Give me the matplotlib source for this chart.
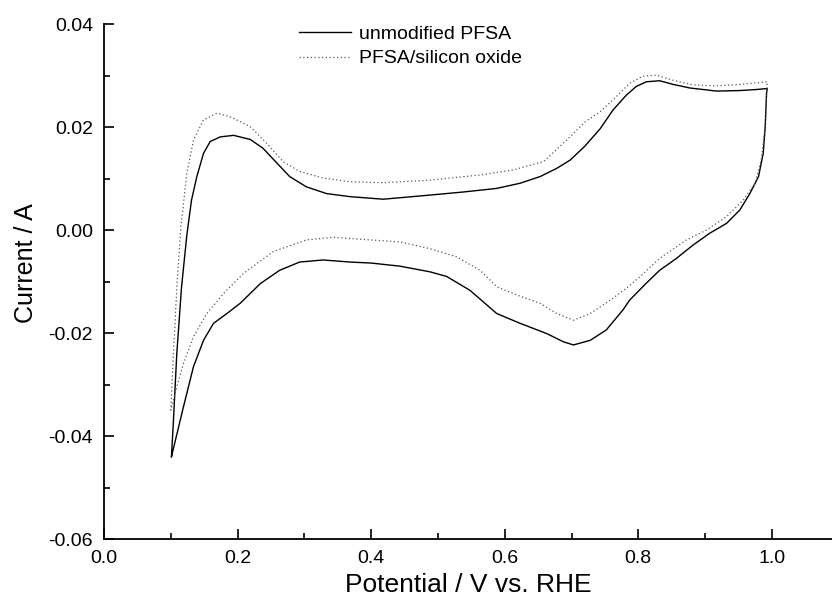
import matplotlib
matplotlib.use("Agg")
import matplotlib.pyplot as plt
from matplotlib.ticker import MultipleLocator, FormatStrFormatter

plt.rcParams['font.family'] = ['Liberation Sans', 'DejaVu Sans']

# unmodified PFSA (anodic sweep then cathodic sweep)
pot_unmod = [0.101, 0.104, 0.109, 0.116, 0.124, 0.131, 0.139, 0.149, 0.159, 0.174,
             0.194, 0.219, 0.238, 0.259, 0.278, 0.303, 0.333, 0.368, 0.418, 0.488,
             0.538, 0.588, 0.623, 0.653, 0.678, 0.698, 0.720, 0.743, 0.762, 0.782,
             0.797, 0.812, 0.832, 0.852, 0.877, 0.917, 0.952, 0.977, 0.993,
             0.992, 0.990, 0.987, 0.980, 0.967, 0.952, 0.932, 0.907, 0.882, 0.857,
             0.832, 0.812, 0.787, 0.777, 0.752, 0.728, 0.703, 0.688, 0.663, 0.623,
             0.588, 0.548, 0.513, 0.488, 0.443, 0.400, 0.368, 0.328, 0.293, 0.263,
             0.234, 0.204, 0.184, 0.164, 0.149, 0.134, 0.119, 0.101]
cur_unmod = [-0.0440, -0.0369, -0.0240, -0.0112, -0.0010, 0.0058, 0.0104, 0.0149, 0.0172, 0.0181,
             0.0184, 0.0176, 0.0159, 0.0130, 0.0104, 0.0084, 0.0071, 0.0065, 0.0060, 0.0068,
             0.0074, 0.0081, 0.0091, 0.0104, 0.0120, 0.0136, 0.0163, 0.0197, 0.0233, 0.0262,
             0.0279, 0.0288, 0.0290, 0.0283, 0.0276, 0.0270, 0.0271, 0.0273, 0.0275,
             0.0266, 0.0201, 0.0149, 0.0104, 0.0071, 0.0039, 0.0013, -0.0006, -0.0029, -0.0055,
             -0.0078, -0.0103, -0.0136, -0.0155, -0.0194, -0.0214, -0.0223, -0.0217, -0.0201, -0.0181,
             -0.0162, -0.0117, -0.0090, -0.0081, -0.0070, -0.0064, -0.0062, -0.0058, -0.0062, -0.0078,
             -0.0104, -0.0142, -0.0162, -0.0181, -0.0214, -0.0265, -0.0343, -0.0440]

# PFSA/silicon oxide
pot_sio = [0.100, 0.104, 0.109, 0.115, 0.124, 0.134, 0.149, 0.169, 0.189, 0.219,
           0.244, 0.268, 0.293, 0.328, 0.368, 0.418, 0.488, 0.563, 0.613, 0.658,
           0.693, 0.720, 0.743, 0.767, 0.787, 0.807, 0.827, 0.852, 0.882, 0.917,
           0.952, 0.993,
           0.990, 0.984, 0.975, 0.957, 0.932, 0.902, 0.872, 0.832, 0.802, 0.782,
           0.758, 0.728, 0.703, 0.678, 0.653, 0.618, 0.588, 0.563, 0.528, 0.488,
           0.443, 0.343, 0.303, 0.253, 0.209, 0.179, 0.154, 0.134, 0.119, 0.109,
           0.100]
cur_sio = [-0.0350, -0.0240, -0.0112, 0.0005, 0.0110, 0.0175, 0.0214, 0.0227, 0.0220, 0.0201,
           0.0168, 0.0133, 0.0114, 0.0101, 0.0094, 0.0092, 0.0097, 0.0107, 0.0117, 0.0133,
           0.0175, 0.0210, 0.0230, 0.0259, 0.0285, 0.0299, 0.0301, 0.0291, 0.0282, 0.0280,
           0.0283, 0.0288,
           0.0201, 0.0136, 0.0091, 0.0058, 0.0026, 0.0000, -0.0019, -0.0055, -0.0091, -0.0113,
           -0.0136, -0.0162, -0.0175, -0.0162, -0.0142, -0.0126, -0.0110, -0.0078, -0.0052, -0.0036,
           -0.0023, -0.0014, -0.0019, -0.0042, -0.0084, -0.0123, -0.0162, -0.0207, -0.0259, -0.0304,
           -0.0350]

labels = ["unmodified PFSA", "PFSA/silicon oxide"]

fig = plt.figure(figsize=(8.32, 6.03), dpi=100)
ax = fig.add_axes([0.125, 0.106, 0.875, 0.854])

ax.plot(pot_unmod, cur_unmod, color='black', lw=1.0, label=labels[0])
ax.plot(pot_sio, cur_sio, color='#555555', lw=0.9, linestyle=(0, (1, 2)), label=labels[1])

ax.set_xlim(0.0, 1.09)
ax.set_ylim(-0.06, 0.04)
ax.xaxis.set_major_locator(MultipleLocator(0.2))
ax.xaxis.set_minor_locator(MultipleLocator(0.1))
ax.yaxis.set_major_locator(MultipleLocator(0.02))
ax.yaxis.set_minor_locator(MultipleLocator(0.01))
ax.xaxis.set_major_formatter(FormatStrFormatter('%.1f'))
ax.yaxis.set_major_formatter(FormatStrFormatter('%.2f'))

for s in ['top', 'right']:
    ax.spines[s].set_visible(False)
for s in ['left', 'bottom']:
    ax.spines[s].set_linewidth(1.3)

ax.tick_params(which='major', direction='in', length=7, width=1.2, labelsize=14, pad=8)
ax.tick_params(which='minor', direction='in', length=4.5, width=1.2)

ax.set_xlabel("Potential / V vs. RHE", fontsize=19, labelpad=4)
ax.set_ylabel("Current / A", fontsize=18)
ax.yaxis.set_label_coords(-0.090, 0.536)

ax.legend(loc='upper left', bbox_to_anchor=(0.268, 0.998), frameon=False, fontsize=14,
          handlelength=2.67, handletextpad=0.41, labelspacing=0.36, borderpad=0, borderaxespad=0)

fig.savefig("out.png", dpi=100)
